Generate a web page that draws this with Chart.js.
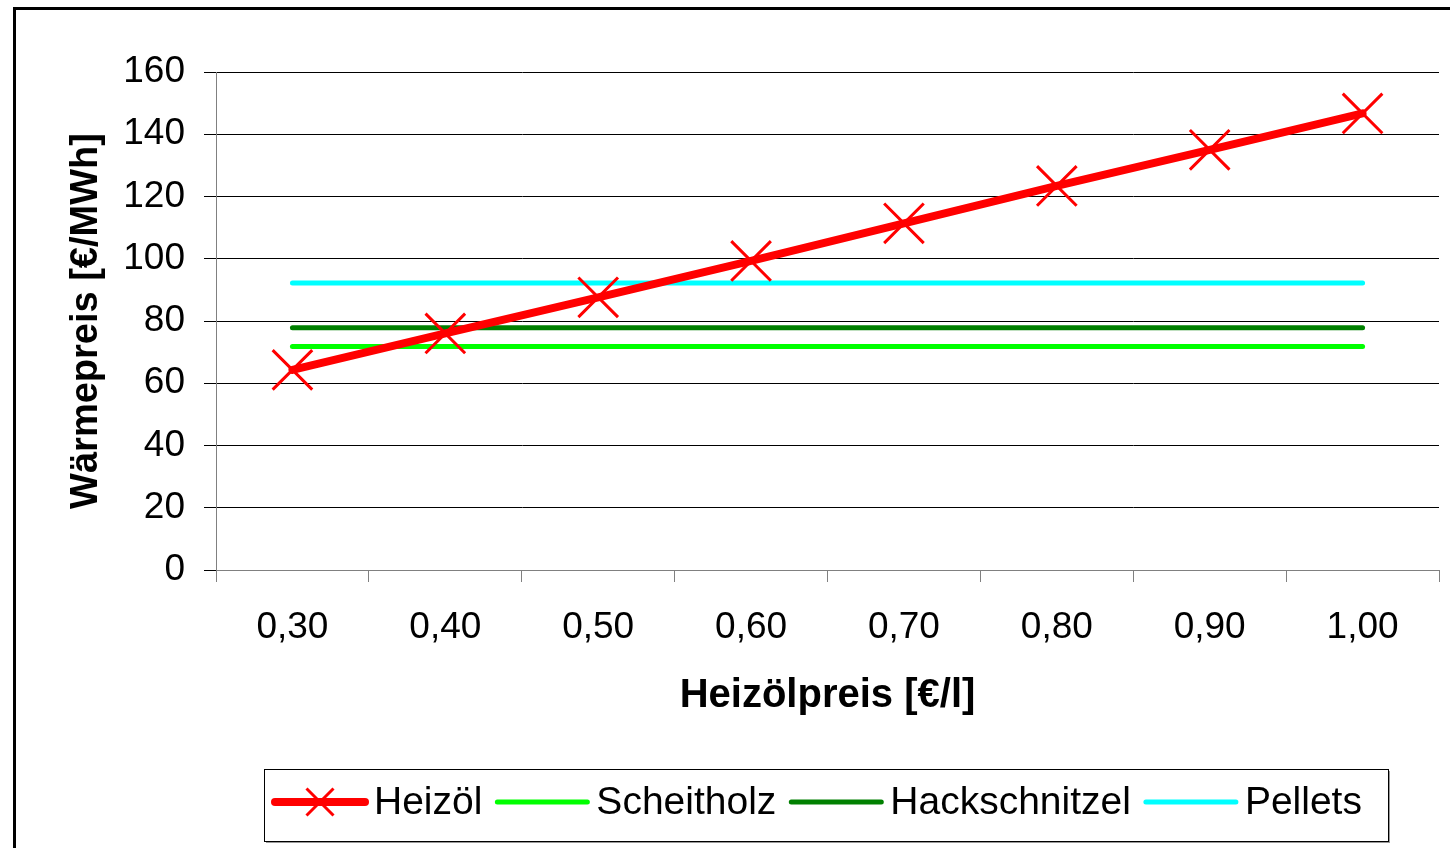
<!DOCTYPE html>
<html>
<head>
<meta charset="utf-8">
<script src="https://cdn.jsdelivr.net/npm/chart.js@4/dist/chart.umd.min.js"></script>
<style>
  html, body { margin: 0; padding: 0; background: #fff; }
  #wrap { width: 1450px; height: 848px; }
</style>
</head>
<body>
<div id="wrap"><canvas id="chart" width="1450" height="848"></canvas></div>
<script>
// data
const priceLabels = ['0,30', '0,40', '0,50', '0,60', '0,70', '0,80', '0,90', '1,00'];
const heizoel = [64.3, 76.0, 87.6, 99.3, 111.4, 123.4, 135.0, 146.7];
const scheitholz = [71.8, 71.8, 71.8, 71.8, 71.8, 71.8, 71.8, 71.8];
const hackschnitzel = [77.8, 77.8, 77.8, 77.8, 77.8, 77.8, 77.8, 77.8];
const pellets = [92.2, 92.2, 92.2, 92.2, 92.2, 92.2, 92.2, 92.2];
const yTicks = [0, 20, 40, 60, 80, 100, 120, 140, 160];

const FONT = '"Liberation Sans", Arial, sans-serif';

// outer frame of the original chart object
const framePlugin = {
  id: 'frame',
  beforeDraw(chart) {
    const ctx = chart.ctx;
    ctx.save();
    ctx.fillStyle = '#fff';
    ctx.fillRect(0, 0, chart.width, chart.height);
    ctx.fillStyle = '#000';
    ctx.fillRect(13, 7, chart.width, 3);
    ctx.fillRect(13, 7, 3, chart.height);
    ctx.restore();
  }
};

// boxed legend with line samples, like the Excel one
const boxLegend = {
  id: 'boxLegend',
  afterDraw(chart) {
    const ctx = chart.ctx;
    const box = { x: 264, y: 769, w: 1124, h: 72 };
    ctx.save();
    ctx.fillStyle = '#999';
    ctx.fillRect(box.x + 2, box.y + box.h, box.w, 2);
    ctx.fillRect(box.x + box.w, box.y + 2, 2, box.h);
    ctx.strokeStyle = '#000';
    ctx.lineWidth = 1;
    ctx.strokeRect(box.x + 0.5, box.y + 0.5, box.w, box.h);

    ctx.font = '39px ' + FONT;
    ctx.textBaseline = 'middle';
    ctx.fillStyle = '#000';
    const cy = 802;
    let x = 275;
    chart.data.datasets.forEach(ds => {
      ctx.strokeStyle = ds.borderColor;
      ctx.lineWidth = ds.borderWidth;
      ctx.lineCap = 'round';
      ctx.beginPath();
      ctx.moveTo(x, cy);
      ctx.lineTo(x + 90, cy);
      ctx.stroke();
      if (ds.pointRadius > 0) {
        const r = 13.5;
        const mx = x + 45;
        ctx.lineWidth = 3;
        ctx.lineCap = 'butt';
        ctx.beginPath();
        ctx.moveTo(mx - r, cy - r); ctx.lineTo(mx + r, cy + r);
        ctx.moveTo(mx - r, cy + r); ctx.lineTo(mx + r, cy - r);
        ctx.stroke();
      }
      ctx.fillText(ds.label, x + 99, cy + 1);
      x += 99 + ctx.measureText(ds.label).width + 15;
    });
    ctx.restore();
  }
};

const lineSeries = (label, data, color) => ({
  label, data,
  borderColor: color,
  backgroundColor: color,
  borderWidth: 5,
  borderCapStyle: 'round',
  pointRadius: 0,
  fill: false,
  tension: 0
});

new Chart(document.getElementById('chart'), {
  type: 'line',
  data: {
    labels: priceLabels,
    datasets: [
      {
        label: 'Heizöl',
        data: heizoel,
        borderColor: '#ff0000',
        backgroundColor: '#ff0000',
        borderWidth: 8,
        borderCapStyle: 'round',
        pointStyle: 'crossRot',
        pointRadius: 28,
        pointBorderWidth: 3,
        pointBorderColor: '#ff0000',
        fill: false,
        tension: 0
      },
      lineSeries('Scheitholz', scheitholz, '#00ff00'),
      lineSeries('Hackschnitzel', hackschnitzel, '#008000'),
      lineSeries('Pellets', pellets, '#00ffff')
    ]
  },
  options: {
    responsive: false,
    animation: false,
    devicePixelRatio: 1,
    events: [],
    layout: { autoPadding: false, padding: { top: 72, right: 11, bottom: 0, left: 0 } },
    plugins: { legend: { display: false }, tooltip: { enabled: false } },
    scales: {
      x: {
        type: 'category',
        offset: true,
        grid: { offset: true, drawOnChartArea: false, color: '#808080', tickLength: 12 },
        border: { color: '#808080' },
        ticks: { color: '#000', font: { family: FONT, size: 37 }, padding: 24, maxRotation: 0, autoSkip: false },
        title: {
          display: true, text: 'Heizölpreis [€/l]', color: '#000',
          font: { family: FONT, size: 40, weight: 'bold' },
          padding: { top: 0, bottom: 128 }
        },
        afterFit(scale) {
          scale.height = 278;
          scale.paddingLeft = 0;
          scale.paddingRight = 0;
        }
      },
      y: {
        min: 0, max: 160,
        afterBuildTicks(scale) { scale.ticks = yTicks.map(v => ({ value: v })); },
        grid: { color: '#000', tickLength: 12 },
        border: { color: '#808080' },
        ticks: { color: '#000', font: { family: FONT, size: 37 }, padding: 19 },
        title: {
          display: true, text: 'Wärmepreis [€/MWh]', color: '#000',
          font: { family: FONT, size: 38, weight: 'bold' },
          padding: { top: 64, bottom: 0 }
        },
        afterFit(scale) { scale.width = 216; }
      }
    }
  },
  plugins: [framePlugin, boxLegend]
});
</script>
</body>
</html>
